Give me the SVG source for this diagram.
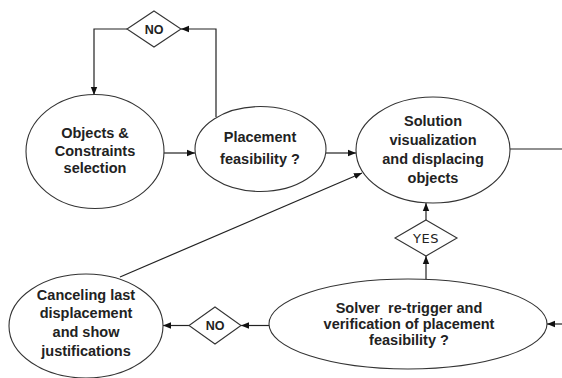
<svg xmlns="http://www.w3.org/2000/svg" width="562" height="378" viewBox="0 0 562 378">
<style>
.node{fill:#fff;stroke:#333;stroke-width:1.1}
.lbl{font-family:"Liberation Sans",Arial,sans-serif;font-weight:bold;font-size:14.5px;fill:#222;text-anchor:middle}
.dlbl{font-family:"Liberation Sans",Arial,sans-serif;font-weight:bold;font-size:12.5px;fill:#222;text-anchor:middle}
.ylbl{font-family:"DejaVu Sans",Verdana,sans-serif;font-size:13px;fill:#222;text-anchor:middle;letter-spacing:0.5px}
.edge{fill:none;stroke:#222;stroke-width:1.2}
</style>
<defs>
<marker id="arr" markerUnits="userSpaceOnUse" markerWidth="8" markerHeight="8" viewBox="0 0 8 8" refX="8" refY="4" orient="auto">
<path d="M0,0.8 L8,4 L0,7.2 Z" fill="#111"/>
</marker>
</defs>
<rect width="562" height="378" fill="#fff"/>
<g id="connectors">
<path class="edge" d="M164,153 L195,153" marker-end="url(#arr)"/>
<path class="edge" d="M326,153 L356,153" marker-end="url(#arr)"/>
<path class="edge" d="M216,117 L216,29 L181,29" marker-end="url(#arr)"/>
<path class="edge" d="M127,29 L94,29 L94,95" marker-end="url(#arr)"/>
<path class="edge" d="M510,149 L562,149"/>
<path class="edge" d="M426,220 L426,203" marker-end="url(#arr)"/>
<path class="edge" d="M426,279 L426,256" marker-end="url(#arr)"/>
<path class="edge" d="M562,324 L547,324" marker-end="url(#arr)"/>
<path class="edge" d="M269,325.5 L241,325.5" marker-end="url(#arr)"/>
<path class="edge" d="M189,325.5 L163,325.5" marker-end="url(#arr)"/>
<path class="edge" d="M120,277 L362,173" marker-end="url(#arr)"/>
</g>
<g id="node-objects">
<ellipse class="node" cx="95" cy="151.5" rx="69" ry="57"/>
<text class="lbl" x="95" y="138">Objects &amp;</text>
<text class="lbl" x="95" y="156">Constraints</text>
<text class="lbl" x="95" y="173">selection</text>
</g>
<g id="node-placement">
<ellipse class="node" cx="260.5" cy="149" rx="65.5" ry="42.5"/>
<text class="lbl" x="260" y="142">Placement</text>
<text class="lbl" x="260" y="164">feasibility ?</text>
</g>
<g id="node-solution">
<ellipse class="node" cx="433" cy="150" rx="77" ry="53"/>
<text class="lbl" x="433" y="126">Solution</text>
<text class="lbl" x="433" y="145">visualization</text>
<text class="lbl" x="433" y="164">and displacing</text>
<text class="lbl" x="433" y="183">objects</text>
</g>
<g id="node-solver">
<ellipse class="node" cx="408" cy="324" rx="139" ry="45"/>
<text class="lbl" x="409" y="313" style="white-space:pre">Solver  re-trigger and</text>
<text class="lbl" x="409" y="329">verification of placement</text>
<text class="lbl" x="409" y="345">feasibility ?</text>
</g>
<g id="node-canceling">
<ellipse class="node" cx="86" cy="326" rx="77" ry="52"/>
<text class="lbl" x="86" y="300">Canceling last</text>
<text class="lbl" x="86" y="318">displacement</text>
<text class="lbl" x="86" y="337">and show</text>
<text class="lbl" x="86" y="356">justifications</text>
</g>
<g id="node-no-top">
<polygon class="node" points="154,11 181,29 154,47 127,29"/>
<text class="dlbl" x="154" y="33.5">NO</text>
</g>
<g id="node-yes">
<polygon class="node" points="426,220 457,238 426,256 395,238"/>
<text class="ylbl" x="426" y="243">YES</text>
</g>
<g id="node-no-bottom">
<polygon class="node" points="215,307 241,325.5 215,344 189,325.5"/>
<text class="dlbl" x="215" y="330">NO</text>
</g>
</svg>
